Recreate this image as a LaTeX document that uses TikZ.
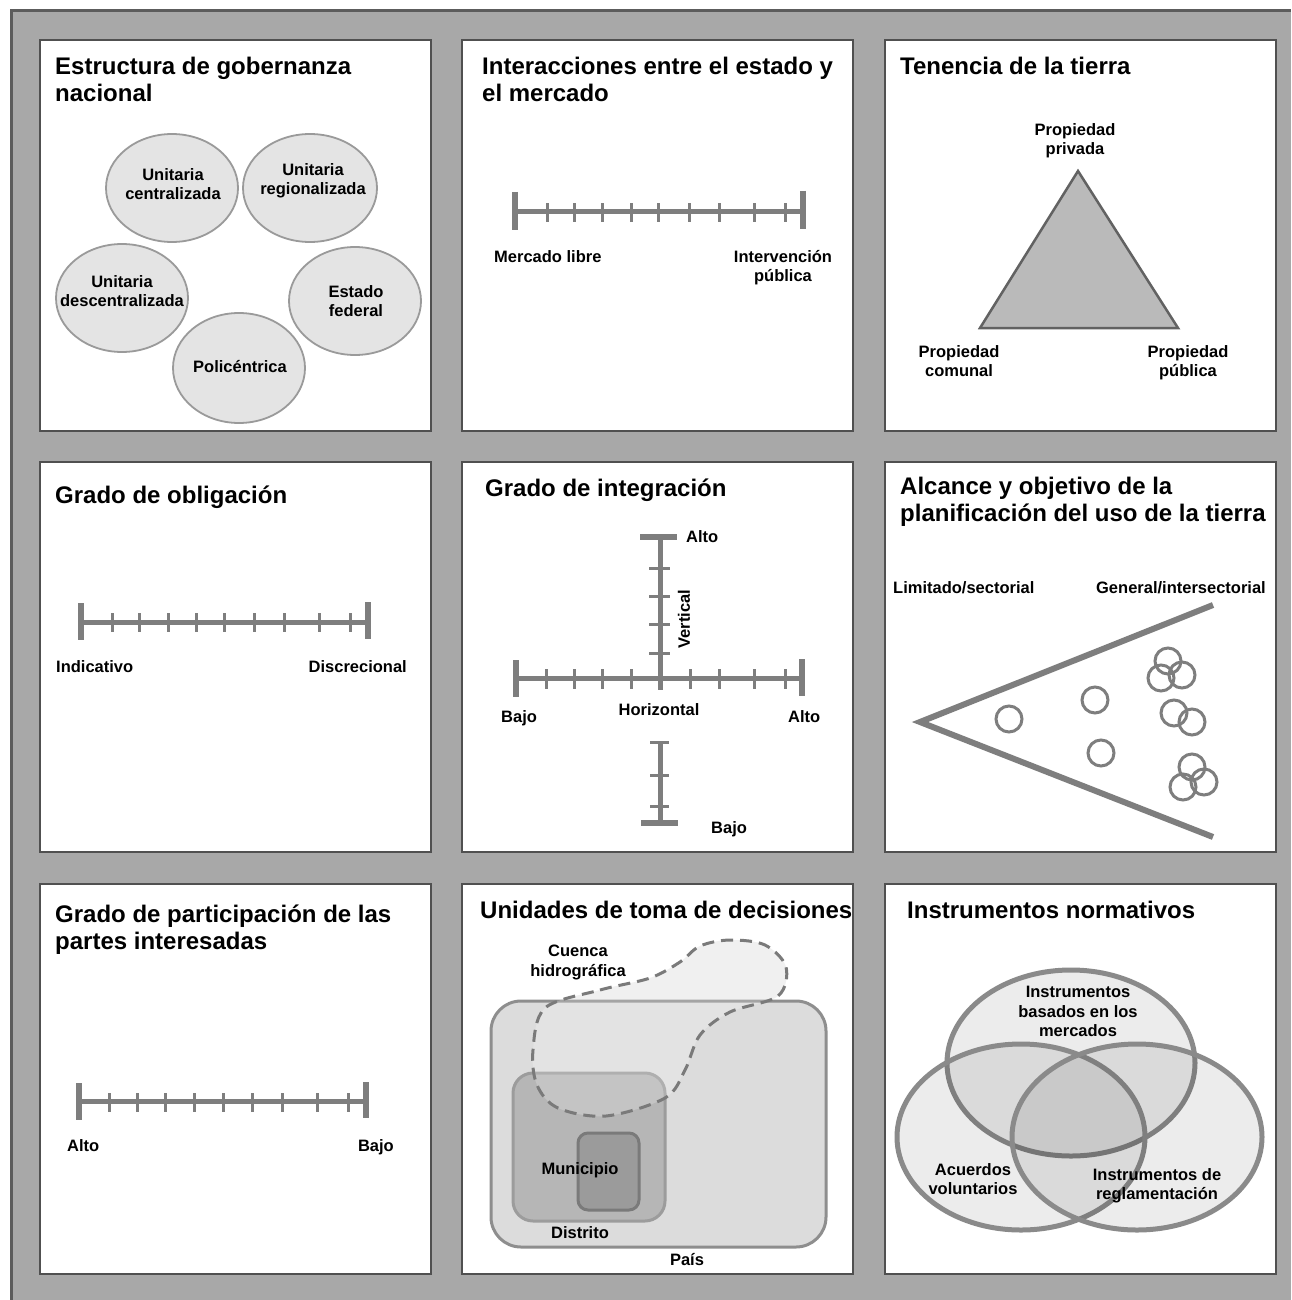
\documentclass[tikz,border=0pt]{standalone}
\usepackage{fontspec}
\setmainfont{Liberation Sans}
\usetikzlibrary{shapes.geometric}
\definecolor{bggray}{HTML}{A8A8A8}
\definecolor{frame}{HTML}{5C5C5C}
\definecolor{panelborder}{HTML}{505050}
\definecolor{bargray}{HTML}{7E7E7E}
\definecolor{ellfill}{HTML}{E4E4E4}
\definecolor{ellborder}{HTML}{9A9A9A}
\definecolor{trifill}{HTML}{BABABA}
\definecolor{triborder}{HTML}{626262}
\definecolor{paisfill}{HTML}{DCDCDC}
\definecolor{paisborder}{HTML}{8E8E8E}
\definecolor{distfill}{HTML}{B6B6B6}
\definecolor{distborder}{HTML}{9C9C9C}
\definecolor{munfill}{HTML}{9B9B9B}
\definecolor{munborder}{HTML}{7A7A7A}
\definecolor{basinline}{HTML}{7A7A7A}
\definecolor{vennline}{HTML}{8A8A8A}
\begin{document}
\begin{tikzpicture}[x=1pt,y=-1pt,
  ptitle/.style={font=\fontsize{24}{27}\selectfont\bfseries, anchor=north west, inner sep=0pt, align=left},
  lbl/.style={font=\fontsize{16.5}{19.5}\selectfont\bfseries, inner sep=0pt, align=center},
  panel/.style={fill=white, draw=panelborder, line width=2.5pt},
  bar/.style={draw=bargray, line width=5pt},
  tk/.style={draw=bargray, line width=3pt},
  endbar/.style={draw=bargray, line width=6pt},
  ell/.style={ellipse, draw=ellborder, fill=ellfill, line width=1.8pt, inner sep=0pt, minimum width=132pt, minimum height=108pt},
  tri/.style={draw=triborder, fill=trifill, line width=2.5pt, line join=miter},
  wedge/.style={draw=bargray, line width=6pt, line join=miter, miter limit=20},
  smallc/.style={draw=bargray, line width=3pt},
  venn/.style={draw=vennline, line width=5pt, fill=black, fill opacity=0.075},
]
\useasboundingbox (0,0) rectangle (1291,1300);
\fill[white] (0,0) rectangle (1291,1300);
\fill[bggray] (11,11) rectangle (1291,1300);
\draw[frame, line width=3pt] (11,1300) -- (11,11) -- (1291,11);

% panels
\draw[panel] (40,40) rectangle (431,431);
\draw[panel] (462,40) rectangle (853,431);
\draw[panel] (885,40) rectangle (1276,431);
\draw[panel] (40,462) rectangle (431,852);
\draw[panel] (462,462) rectangle (853,852);
\draw[panel] (885,462) rectangle (1276,852);
\draw[panel] (40,884) rectangle (431,1274);
\draw[panel] (462,884) rectangle (853,1274);
\draw[panel] (885,884) rectangle (1276,1274);

% ---------- Panel 1
\node[ptitle] (t1) at (55,57) {Estructura de gobernanza\\nacional};
\node[ell] (uc) at (172,188) {};
\node[ell, minimum width=134pt] (ur) at (310,188) {};
\node[ell] (ud) at (122,298) {};
\node[ell] (ef) at (355,301) {};
\node[ell, minimum height=110pt] (pc) at (239,368) {};
\node[lbl, anchor=north] (uct) at (173,168) {Unitaria\\centralizada};
\node[lbl, anchor=north] (urt) at (313,163) {Unitaria\\regionalizada};
\node[lbl, anchor=north] (udt) at (122,275) {Unitaria\\descentralizada};
\node[lbl, anchor=north] (eft) at (356,285) {Estado\\federal};
\node[lbl, anchor=base] (pct) at (240,372) {Policéntrica};

% ---------- Panel 2
\node[ptitle] (t2) at (482,57) {Interacciones entre el estado y\\el mercado};
\coordinate (s2l) at (515,211);
\coordinate (s2r) at (803,211);
\draw[bar] (s2l) -- (s2r);
\foreach \x in {547,574,602,631,658,689,719,754,785} \draw[tk] (\x,203) -- (\x,222);
\draw[endbar] (515,192) -- (515,230);
\draw[endbar] (803,191) -- (803,229);
\node[lbl, anchor=base west] (ml) at (494,262) {Mercado libre};
\node[lbl, anchor=north] (ip) at (783,250) {Intervención\\pública};

% ---------- Panel 3
\node[ptitle] (t3) at (900,57) {Tenencia de la tierra};
\coordinate (ta) at (1078,171);
\coordinate (tb) at (980,328);
\coordinate (tc) at (1178,328);
\draw[tri] (ta) -- (tb) -- (tc) -- cycle;
\node[lbl, anchor=north] (pp) at (1075,123) {Propiedad\\privada};
\node[lbl, anchor=north] (pcm) at (959,345) {Propiedad\\comunal};
\node[lbl, anchor=north] (ppu) at (1188,345) {Propiedad\\pública};

% ---------- Panel 4
\node[ptitle] (t4) at (55,486) {Grado de obligación};
\coordinate (s4l) at (81,622);
\coordinate (s4r) at (368,622);
\draw[bar] (s4l) -- (s4r);
\foreach \x in {112,139,168,196,224,254,284,319,350} \draw[tk] (\x,613) -- (\x,632);
\draw[endbar] (81,603) -- (81,640);
\draw[endbar] (368,602) -- (368,639);
\node[lbl, anchor=base west] (ind) at (56,672) {Indicativo};
\node[lbl, anchor=base east] (dis) at (407,672) {Discrecional};

% ---------- Panel 5
\node[ptitle] (t5) at (485,479) {Grado de integración};
\coordinate (s5l) at (516,678);
\coordinate (s5r) at (802,678);
\coordinate (s5t) at (660,537);
\coordinate (s5c) at (660,690);
\draw[bar] (s5l) -- (s5r);
\draw[bar] (s5t) -- (s5c);
\foreach \x in {546,574,602,631,690,719,754,785} \draw[tk] (\x,669) -- (\x,689);
\foreach \y in {568,596,624,653} \draw[tk] (649,\y) -- (670,\y);
\draw[endbar] (516,660) -- (516,697);
\draw[endbar] (802,659) -- (802,696);
\draw[endbar] (640,537) -- (677,537);
\coordinate (s5bt) at (660,742);
\coordinate (s5bb) at (660,823);
\draw[bar] (s5bt) -- (s5bb);
\foreach \y in {742,775,806} \draw[tk] (650,\y) -- (669,\y);
\draw[endbar] (641,823) -- (678,823);
\node[lbl, anchor=base west] (alto1) at (686,542) {Alto};
\node[lbl, rotate=90] (vert) at (684,619) {Vertical};
\node[lbl, anchor=base west] (bajo1) at (501,722) {Bajo};
\node[lbl, anchor=base] (hor) at (659,715) {Horizontal};
\node[lbl, anchor=base west] (alto2) at (788,722) {Alto};
\node[lbl, anchor=base west] (bajo2) at (711,833) {Bajo};

% ---------- Panel 6
\node[ptitle] (t6) at (900,477) {Alcance y objetivo de la\\planificación del uso de la tierra};
\node[lbl, anchor=base west] (lim) at (893,593) {Limitado/sectorial};
\node[lbl, anchor=base east] (gen) at (1266,593) {General/intersectorial};
\coordinate (wt) at (1213,605);
\coordinate (wa) at (920,722);
\coordinate (wb) at (1213,837);
\draw[wedge] (wt) -- (wa) -- (wb);
\foreach \p in {(1009,719),(1095,700),(1101,753),(1168,661),(1161,678),(1182,675),(1174,713),(1192,722),(1192,767),(1183,787),(1204,782)}
  \draw[smallc] \p circle [radius=13];

% ---------- Panel 7
\node[ptitle] (t7) at (55,905) {Grado de participación de las\\partes interesadas};
\coordinate (s7l) at (79,1101);
\coordinate (s7r) at (366,1101);
\draw[bar] (s7l) -- (s7r);
\foreach \x in {109,137,165,194,223,252,282,317,348} \draw[tk] (\x,1093) -- (\x,1112);
\draw[endbar] (79,1083) -- (79,1120);
\draw[endbar] (366,1082) -- (366,1118);
\node[lbl, anchor=base west] (alto3) at (67,1151) {Alto};
\node[lbl, anchor=base east] (bajo3) at (394,1151) {Bajo};

% ---------- Panel 8
\node[ptitle] (t8) at (480,901) {Unidades de toma de decisiones};
\fill[black!7, draw=none]
  plot[smooth cycle, tension=0.55] coordinates {(545,1008) (600,990) (650,978) (680,962) (700,946) (730,940) (765,945) (786,967) (778,996) (730,1012) (700,1035) (685,1070) (665,1098) (606,1116) (558,1108) (537,1085) (533,1050)};
\draw[fill=paisfill, draw=paisborder, line width=3pt, rounded corners=30pt] (491,1001) rectangle (826,1247);
\draw[fill=distfill, draw=distborder, line width=3pt, rounded corners=20pt] (513,1073) rectangle (665,1221);
\draw[fill=munfill, draw=munborder, line width=3pt, rounded corners=10pt] (578,1133) rectangle (639,1210);
\draw[draw=basinline, line width=3pt, dash pattern=on 12pt off 7pt, fill=white, fill opacity=0.2]
  plot[smooth cycle, tension=0.55] coordinates {(545,1008) (600,990) (650,978) (680,962) (700,946) (730,940) (765,945) (786,967) (778,996) (730,1012) (700,1035) (685,1070) (665,1098) (606,1116) (558,1108) (537,1085) (533,1050)};
\node[lbl, anchor=north] (cue) at (578,945) {Cuenca\\hidrográfica};
\node[lbl, anchor=base] (mun) at (580,1174) {Municipio};
\node[lbl, anchor=base] (dist) at (580,1238) {Distrito};
\node[lbl, anchor=base] (pais) at (687,1265) {País};

% ---------- Panel 9
\node[ptitle] (t9) at (907,901) {Instrumentos normativos};
\draw[venn] (1071,1063) ellipse [x radius=124, y radius=93];
\draw[venn] (1021,1137) ellipse [x radius=124, y radius=93];
\draw[venn] (1137,1137) ellipse [x radius=125, y radius=93];
\node[lbl, anchor=north] (ibm) at (1078,986) {Instrumentos\\basados en los\\mercados};
\node[lbl, anchor=north] (acv) at (973,1163) {Acuerdos\\voluntarios};
\node[lbl, anchor=north] (ire) at (1157,1168) {Instrumentos de\\reglamentación};
\end{tikzpicture}
\end{document}
